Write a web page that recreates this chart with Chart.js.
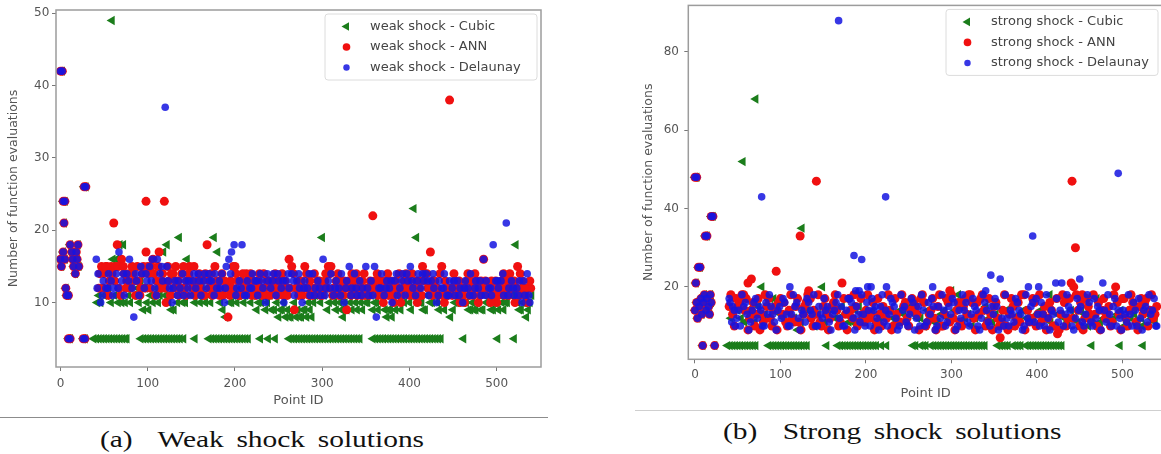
<!DOCTYPE html>
<html>
<head>
<meta charset="utf-8">
<script src="https://cdn.jsdelivr.net/npm/chart.js@4.4.1/dist/chart.umd.min.js"></script>
<style>
  html, body { margin: 0; padding: 0; background: #fff; }
  body { position: relative; width: 1161px; height: 454px; overflow: hidden; }
  #weakChart { position: absolute; left: 0; top: 0; }
  #strongChart { position: absolute; left: 580px; top: 0; }
  .rule { position: absolute; height: 0; }
  .caption {
    position: absolute;
    font-family: "Liberation Serif", "Times New Roman", serif;
    font-size: 23px;
    line-height: 23px;
    color: #111;
    white-space: nowrap;
    word-spacing: 0.18em;
    transform: scaleX(1.28);
    transform-origin: 0 0;
  }
</style>
</head>
<body>
<canvas id="weakChart" width="560" height="415"></canvas>
<canvas id="strongChart" width="590" height="405"></canvas>
<div class="rule" style="left:0; top:417px; width:548px; border-top:1.5px solid #8c8c8c;"></div>
<div class="rule" style="left:635px; top:410px; width:526px; border-top:1px solid #cfcfcf;"></div>
<div class="caption" style="left:100px; top:428px;">(a)&nbsp; Weak shock solutions</div>
<div class="caption" style="left:723px; top:420px;">(b)&nbsp; Strong shock solutions</div>

<script>
// [point id, number of function evaluations]

const weakCubic = [
  [0,42],[2,42],[3,24],[5,24],[4,21],[0,16],[1,15],[3,17],[5,16],[11,18],[13,17],[14,16],[15,15],[17,14],
  [18,17],[19,16],[20,18],[21,15],[6,12],[7,11],[9,11],[9,5],[11,5],[26,5],[28,5],[27,26],[29,26],
  [59,49],[42,10],[46,10],[50,11],[55,12],[60,16],[64,16],[68,18],[72,18],[66,10],[70,10],[74,10],[78,11],
  [82,13],[88,12],[92,13],[95,9],[99,10],[103,11],[106,10],[110,12],[114,11],[118,17],[122,18],[124,10],
  [127,9],[130,9],[134,10],[136,19],[140,10],[145,16],[148,13],[152,11],[156,12],[160,10],[164,11],[168,12],
  [172,10],[176,19],[180,17],[183,10],[186,9],[189,8],[192,11],[196,10],[200,12],[205,11],[210,10],[215,12],
  [220,11],[225,9],[230,10],[235,9],[240,11],[245,9],[250,8],[254,9],[258,8],[262,8],[266,9],[270,8],[274,8],
  [278,9],[282,8],[286,9],[290,10],[295,11],[300,19],[304,12],[308,10],[312,11],[316,9],[320,10],[324,8],
  [328,9],[332,10],[336,11],[340,9],[344,10],[348,12],[352,10],[356,11],[360,10],[364,9],[368,10],[372,9],
  [376,9],[380,8],[384,9],[388,10],[392,11],[396,12],[400,10],[405,23],[408,19],[412,10],[416,9],[420,11],
  [424,10],[428,12],[432,10],[436,11],[440,9],[447,8],[452,10],[456,11],[460,12],[465,10],[470,9],[474,9],
  [478,10],[482,9],[486,11],[490,10],[494,9],[498,10],[502,9],[506,10],[510,10],[515,12],[519,11],[522,18],
  [526,9],[530,10],[534,8],[538,10],
  [44,11],[52,12],[58,10],[62,11],[76,12],[80,10],[85,11],[90,10],[97,12],[101,9],[108,11],[112,10],
  [116,12],[120,11],[132,11],[138,12],[143,10],[150,11],[154,10],[158,11],[162,12],[166,10],[170,11],
  [178,12],[194,10],[198,11],[202,10],[207,12],[212,11],[218,10],[222,12],[227,10],[232,11],[237,10],
  [242,9],[248,10],[252,9],[256,10],[260,9],[264,8],[268,10],[272,9],[276,8],[280,9],[284,10],[288,8],
  [292,11],[298,10],[302,11],[306,9],[310,12],[314,10],[318,11],[322,9],[326,10],[330,11],[334,9],[338,10],
  [342,11],[346,9],[350,10],[354,12],[358,9],[362,10],[366,11],[370,10],[374,8],[378,9],[382,10],[386,11],
  [390,9],[394,10],[398,11],[402,9],[410,11],[414,10],[418,9],[422,12],[426,10],[430,11],[434,9],[438,10],
  [442,11],[450,9],[454,10],[458,11],[462,10],[468,9],[472,10],[476,9],[480,11],[484,9],[488,10],[492,11],
  [496,9],[500,10],[504,11],[508,9],[512,10],[517,11],[524,10],[528,9],[532,10],[536,9],[540,11],
  [38,5],[41,5],[44,5],[47,5],[50,5],[53,5],[56,5],[59,5],[62,5],[65,5],[68,5],[71,5],[74,5],[76,5],
  [92,5],[95,5],[98,5],[101,5],[104,5],[107,5],[110,5],[113,5],[116,5],[119,5],[122,5],[125,5],[128,5],
  [131,5],[134,5],[137,5],[141,5],[154,5],
  [170,5],[173,5],[176,5],[179,5],[182,5],[185,5],[188,5],[191,5],[194,5],[197,5],[200,5],[203,5],[206,5],
  [209,5],[212,5],[215,5],[229,5],[238,5],[246,5],
  [262,5],[265,5],[268,5],[271,5],[274,5],[277,5],[280,5],[283,5],[286,5],[289,5],[292,5],[295,5],[298,5],
  [301,5],[304,5],[307,5],[310,5],[313,5],[316,5],[319,5],[322,5],[325,5],[328,5],[331,5],[334,5],[337,5],
  [340,5],[343,5],
  [358,5],[361,5],[364,5],[367,5],[370,5],[373,5],[376,5],[379,5],[382,5],[385,5],[388,5],[391,5],[394,5],
  [397,5],[400,5],[403,5],[406,5],[409,5],[412,5],[415,5],[418,5],[421,5],[424,5],[427,5],[430,5],[433,5],
  [436,5],[462,5],[501,5],[520,5]
];

const weakAnn = [
  [0,42],[2,42],[3,24],[5,24],[4,21],[0,16],[1,15],[3,17],[5,16],[11,18],[13,17],[14,16],[15,15],[17,14],
  [18,17],[19,16],[20,18],[21,15],[6,12],[7,11],[9,11],[9,5],[11,5],[26,5],[28,5],[27,26],[29,26],
  [44,12],[47,15],[50,14],[53,15],[56,13],[58,15],[61,21],[63,15],[65,18],[67,12],[70,16],[73,14],[76,13],
  [80,12],[83,14],[86,11],[89,13],[92,12],[95,15],[98,24],[98,17],[101,14],[104,15],[107,14],[110,13],
  [113,17],[115,12],[117,14],[119,24],[121,10],[124,13],[127,14],[130,12],[133,13],[136,11],[139,14],
  [142,12],[145,13],[148,15],[151,12],[154,11],[157,13],[160,12],[163,11],[166,14],[168,18],[171,12],
  [174,11],[177,15],[180,12],[183,13],[186,11],[189,12],[192,8],[195,13],[198,15],[201,14],[204,11],
  [207,13],[210,12],[213,14],[216,12],[219,11],[222,13],[225,12],[228,14],[231,11],[234,12],[237,13],
  [240,11],[243,12],[246,14],[249,12],[252,13],[255,11],[258,12],[262,16],[265,15],[268,9],[271,12],
  [274,13],[277,11],[280,15],[283,12],[286,13],[289,11],[292,12],[295,13],[298,11],[301,12],[304,14],
  [307,15],[310,15],[313,12],[316,13],[319,11],[322,12],[325,13],[328,9],[331,12],[334,14],[337,13],
  [340,11],[343,12],[346,13],[349,11],[352,12],[355,13],[358,22],[361,12],[364,11],[367,13],[370,10],
  [373,12],[376,11],[379,13],[382,10],[385,12],[388,14],[391,11],[394,13],[397,12],[400,11],[403,14],
  [406,12],[409,10],[412,13],[415,15],[418,14],[421,12],[424,17],[427,13],[430,12],[433,11],[437,15],
  [440,10],[443,12],[446,38],[449,11],[452,13],[455,12],[458,10],[461,11],[464,12],[467,14],[470,13],
  [473,11],[476,12],[479,10],[482,13],[485,16],[488,12],[491,11],[494,13],[497,12],[500,10],[503,12],
  [506,13],[509,11],[512,12],[515,14],[518,13],[521,10],[524,15],[527,14],[530,12],[533,11],[536,12],[539,12],
  [45,14],[49,12],[52,15],[55,11],[59,14],[62,13],[66,15],[69,11],[72,15],[75,12],[78,14],[82,15],[85,13],
  [88,15],[91,11],[94,14],[97,12],[100,15],[103,12],[106,16],[109,11],[112,15],[116,13],[120,12],[123,15],
  [126,11],[129,14],[132,15],[135,13],[138,12],[141,15],[144,11],[147,14],[150,13],[153,15],[156,12],
  [159,14],[162,13],[165,11],[170,13],[173,14],[176,12],[179,13],[182,11],[185,14],[188,13],[191,12],
  [194,11],[197,12],[200,15],[203,13],[206,11],[209,14],[212,12],[215,13],[218,14],[221,12],[224,11],
  [227,13],[230,12],[233,14],[236,11],[239,13],[242,12],[245,13],[248,11],[251,12],[254,14],[257,13],
  [260,11],[263,12],[267,14],[270,12],[273,11],[276,13],[279,12],[282,14],[285,11],[288,12],[291,14],
  [294,12],[297,13],[300,11],[303,13],[306,12],[309,14],[312,11],[315,12],[318,14],[321,13],[324,11],
  [327,12],[330,13],[333,11],[336,12],[339,14],[342,13],[345,11],[348,14],[351,12],[354,11],[357,12],
  [360,13],[363,14],[366,12],[369,11],[372,13],[375,14],[378,12],[381,11],[384,13],[387,12],[390,10],
  [393,12],[396,14],[399,13],[402,12],[405,11],[408,13],[411,12],[414,11],[417,13],[420,14],[423,12],
  [426,11],[429,13],[432,12],[435,14],[438,11],[441,13],[444,11],[448,12],[451,14],[454,11],[457,13],
  [460,12],[463,10],[466,13],[469,11],[472,12],[475,14],[478,13],[481,11],[484,12],[487,13],[490,12],
  [493,10],[496,11],[499,13],[502,11],[505,12],[508,14],[511,13],[514,11],[517,12],[520,13],[523,12],
  [526,11],[529,13],[532,12],[535,10],[538,13]
];

const weakDelaunay = [
  [0,42],[2,42],[3,24],[5,24],[4,21],[0,16],[1,15],[3,17],[5,16],[11,18],[13,17],[14,16],[15,15],[17,14],
  [18,17],[19,16],[20,18],[21,15],[6,12],[7,11],[9,11],[9,5],[11,5],[26,5],[28,5],[27,26],[29,26],
  [41,16],[43,14],[46,10],[49,13],[52,12],[55,14],[58,13],[61,12],[64,14],[67,17],[70,13],[73,11],[76,14],
  [79,16],[82,12],[84,8],[87,13],[90,11],[93,14],[96,12],[99,13],[102,15],[105,16],[108,12],[111,16],
  [114,14],[117,13],[120,37],[122,15],[125,12],[128,10],[131,13],[134,11],[137,12],[140,14],[143,13],
  [146,12],[149,11],[152,13],[155,12],[158,14],[161,11],[164,13],[167,12],[170,14],[173,13],[176,11],
  [179,12],[182,13],[185,14],[188,10],[190,15],[193,16],[196,17],[199,18],[202,12],[205,13],[208,18],
  [211,11],[214,13],[217,12],[220,14],[223,13],[226,11],[229,14],[232,12],[235,10],[238,13],[241,12],
  [244,14],[247,11],[250,13],[253,12],[256,10],[259,13],[262,12],[265,14],[268,11],[271,13],[274,12],
  [277,10],[280,13],[283,12],[286,11],[289,14],[292,12],[295,13],[298,11],[301,16],[304,12],[307,13],
  [310,14],[313,11],[316,13],[319,12],[322,14],[325,10],[328,13],[331,15],[334,12],[337,14],[340,11],
  [343,13],[346,12],[350,15],[353,11],[356,13],[360,15],[362,8],[365,12],[368,14],[371,11],[374,13],
  [377,12],[380,10],[383,13],[386,11],[389,12],[392,14],[395,11],[398,13],[401,15],[404,12],[407,11],
  [410,14],[413,12],[416,13],[419,14],[422,11],[425,13],[428,12],[431,10],[434,13],[437,12],[440,14],
  [443,11],[446,13],[449,12],[452,11],[455,13],[458,12],[461,10],[464,13],[467,12],[470,14],[473,11],
  [476,13],[479,12],[482,11],[485,16],[488,13],[491,12],[494,11],[496,18],[499,13],[502,12],[505,13],
  [508,11],[511,21],[514,12],[517,13],[520,11],[523,12],[526,13],[529,10],[532,11],[535,14],[538,10],
  [42,12],[48,11],[54,12],[60,11],[66,12],[72,14],[78,13],[86,14],[92,15],[98,14],[104,13],[110,11],
  [116,15],[123,13],[129,12],[135,13],[141,11],[147,13],[153,14],[159,13],[165,14],[171,13],[177,14],
  [183,12],[189,12],[195,14],[201,11],[207,12],[213,11],[219,12],[225,13],[231,13],[237,14],[243,13],
  [249,14],[255,13],[261,14],[267,13],[273,14],[279,12],[285,14],[291,11],[297,12],[303,11],[309,12],
  [315,12],[321,11],[327,12],[333,11],[339,12],[345,11],[352,12],[358,11],[367,12],[373,12],[379,13],
  [385,14],[391,13],[397,14],[403,13],[409,13],[415,14],[421,13],[427,14],[433,11],[439,12],[445,11],
  [451,13],[457,11],[463,12],[469,11],[475,12],[481,13],[487,11],[493,12],[501,13],[507,14],[513,11],
  [519,12],[525,11],[531,13],[537,11]
];

const strongCubic = [
  [0,48],[2,48],[1,21],[4,25],[6,25],[12,33],[14,33],[19,38],[21,38],[0,14],[2,16],[3,12],[5,15],[7,17],
  [8,13],[10,16],[11,18],[13,14],[14,17],[16,15],[17,13],[18,18],[19,16],[9,5],[23,5],
  [56,52],[71,68],[125,35],[78,20],[149,20],[300,19],[308,18],[415,18],[470,17],[120,9],[523,10],[88,17],[92,17],
  [42,12],[50,14],[58,11],[66,13],[74,15],[84,12],[100,13],[108,11],[116,12],[132,14],[140,10],[156,13],
  [164,12],[172,15],[180,11],[188,14],[196,12],[204,13],[212,10],[220,12],[228,14],[236,11],[244,13],
  [252,15],[260,12],[268,10],[276,13],[284,11],[292,14],[316,12],[324,10],[332,13],[340,15],[348,11],
  [356,12],[364,14],[372,10],[380,13],[388,12],[396,11],[404,14],[412,12],[420,10],[428,13],[436,11],
  [444,12],[452,14],[460,10],[478,12],[486,11],[494,13],[502,10],[510,12],[518,11],[530,13],[538,11],
  [46,13],[54,12],[62,14],[70,11],[82,13],[96,14],[104,12],[112,13],[124,11],[128,14],[136,12],[144,13],
  [152,11],[160,14],[168,12],[176,13],[184,11],[192,15],[200,12],[208,14],[216,11],[224,13],[232,12],
  [240,14],[248,11],[256,13],[264,12],[272,14],[280,11],[288,13],[296,12],[304,14],[312,11],[320,13],
  [328,12],[336,14],[344,12],[352,13],[360,11],[368,13],[376,12],[384,14],[392,11],[400,13],[408,12],
  [416,11],[424,13],[432,12],[440,14],[448,11],[456,13],[464,12],[474,11],[482,13],[490,12],[498,14],
  [506,11],[514,13],[522,12],[534,12],
  [38,5],[41,5],[44,5],[47,5],[50,5],[53,5],[56,5],[59,5],[62,5],[65,5],[68,5],[71,5],
  [86,5],[89,5],[92,5],[95,5],[98,5],[101,5],[104,5],[107,5],[110,5],[113,5],[116,5],[119,5],[122,5],
  [125,5],[128,5],[131,5],[154,5],
  [167,5],[170,5],[173,5],[176,5],[179,5],[182,5],[185,5],[188,5],[191,5],[194,5],[197,5],[200,5],[203,5],
  [206,5],[209,5],[212,5],[218,5],[224,5],
  [255,5],[258,5],[264,5],[267,5],[270,5],[276,5],[279,5],[282,5],[285,5],[288,5],[291,5],[294,5],[297,5],
  [300,5],[303,5],[306,5],[309,5],[312,5],[315,5],[318,5],[321,5],[324,5],[327,5],[330,5],[333,5],[336,5],
  [339,5],
  [354,5],[357,5],[360,5],[363,5],[366,5],[372,5],[375,5],[378,5],[381,5],[387,5],[390,5],[393,5],[396,5],
  [399,5],[402,5],[405,5],[408,5],[411,5],[414,5],[417,5],[420,5],[423,5],[426,5],[429,5],
  [464,5],[497,5],[524,5]
];

const strongAnn = [
  [0,48],[2,48],[1,21],[4,25],[6,25],[12,33],[14,33],[19,38],[21,38],[0,14],[2,16],[3,12],[5,15],[7,17],
  [8,13],[10,16],[11,18],[13,14],[14,17],[16,15],[17,13],[18,18],[19,16],[9,5],[23,5],
  [142,47],[441,47],[445,30],[123,33],[95,24],[66,22],[62,21],[172,21],[357,7],[424,8],[76,9],[133,19],
  [298,19],[322,18],[385,18],[440,21],[443,20],[453,18],[492,20],
  [40,15],[44,13],[48,17],[52,16],[55,18],[58,14],[60,17],[64,12],[68,16],[72,13],[80,11],[84,15],[88,12],
  [92,14],[98,16],[102,13],[106,11],[110,14],[114,12],[118,15],[121,11],[127,13],[130,16],[136,12],[139,14],
  [146,11],[150,15],[154,13],[158,12],[162,16],[166,14],[170,11],[176,13],[180,17],[184,12],[188,15],
  [192,11],[196,13],[200,14],[204,12],[208,16],[212,11],[216,13],[220,15],[224,12],[228,14],[232,10],
  [236,13],[240,11],[244,15],[248,12],[252,14],[256,16],[260,13],[264,17],[268,16],[272,11],[276,14],
  [280,12],[284,15],[288,10],[292,13],[296,16],[302,12],[306,14],[310,11],[314,15],[318,13],[326,12],
  [330,16],[334,17],[338,14],[342,11],[346,13],[350,15],[354,12],[360,14],[364,10],[368,13],[372,15],
  [376,12],[380,11],[389,14],[393,12],[397,16],[401,13],[405,11],[409,15],[413,12],[417,14],[421,10],
  [428,13],[432,16],[436,12],[448,14],[451,16],[456,12],[460,15],[464,11],[468,13],[472,16],[476,14],
  [480,12],[484,15],[488,11],[496,13],[500,17],[504,12],[508,14],[512,16],[516,11],[520,15],[524,13],
  [528,17],[532,14],[536,12],[540,15],
  [42,18],[46,10],[50,15],[54,17],[57,18],[62,9],[66,14],[70,10],[74,17],[78,13],[82,18],[86,17],[90,10],
  [94,15],[96,9],[100,17],[104,16],[108,10],[112,18],[116,11],[120,17],[124,9],[128,15],[132,18],[135,17],
  [138,10],[142,13],[144,18],[148,10],[152,17],[156,9],[160,15],[164,18],[168,10],[174,17],[178,9],
  [182,14],[186,18],[190,10],[194,17],[198,11],[202,18],[206,13],[210,9],[214,17],[218,10],[222,14],
  [226,18],[230,9],[234,17],[238,11],[242,18],[246,16],[250,10],[254,17],[258,15],[262,9],[266,18],
  [270,10],[274,13],[278,17],[282,9],[286,18],[290,10],[294,17],[298,11],[300,18],[304,9],[308,16],
  [312,10],[316,17],[320,18],[324,16],[328,9],[332,13],[336,18],[340,10],[344,17],[348,9],[352,16],
  [356,10],[358,11],[362,18],[366,9],[370,17],[374,10],[378,16],[382,18],[386,9],[391,11],[395,17],
  [399,10],[403,18],[407,13],[411,9],[415,16],[419,10],[423,17],[426,9],[430,18],[434,10],[438,17],
  [442,12],[446,18],[450,10],[454,9],[458,17],[462,13],[466,18],[470,10],[474,9],[478,17],[482,13],
  [486,10],[490,18],[494,16],[498,9],[502,17],[506,10],[510,18],[514,15],[518,9],[522,17],[526,16],
  [530,10],[534,18],[538,13]
];

const strongDelaunay = [
  [0,48],[2,48],[1,21],[4,25],[6,25],[12,33],[14,33],[19,38],[21,38],[0,14],[2,16],[3,12],[5,15],[7,17],
  [8,13],[10,16],[11,18],[13,14],[14,17],[16,15],[17,13],[18,18],[19,16],[9,5],[23,5],
  [168,88],[78,43],[223,43],[495,49],[395,33],[186,28],[195,27],[346,23],[357,22],[450,22],[477,21],
  [111,20],[188,19],[192,19],[202,20],[206,20],[224,20],[278,20],[340,19],[390,20],[402,20],[422,21],[429,21],
  [41,16],[43,11],[46,14],[49,12],[53,10],[57,15],[61,13],[65,11],[69,16],[73,12],[77,14],[81,10],[85,13],
  [89,15],[93,11],[97,14],[101,12],[105,16],[109,10],[113,13],[117,15],[121,12],[125,14],[129,11],[133,16],
  [137,13],[141,10],[145,15],[149,12],[153,14],[157,11],[161,13],[165,16],[169,12],[173,10],[177,14],
  [181,17],[185,12],[189,15],[193,11],[197,13],[201,16],[205,10],[209,14],[213,12],[217,15],[221,11],
  [227,13],[231,16],[235,12],[239,10],[243,14],[247,11],[251,13],[255,16],[259,12],[263,10],[267,14],
  [271,11],[275,13],[279,15],[283,10],[287,12],[291,14],[295,11],[299,13],[303,16],[307,10],[311,12],
  [315,14],[319,11],[323,13],[327,15],[331,10],[335,12],[339,16],[343,11],[349,13],[353,15],[361,10],
  [365,12],[369,14],[373,11],[377,16],[381,13],[385,10],[389,12],[393,15],[397,11],[401,13],[405,16],
  [409,10],[413,12],[417,14],[425,11],[433,13],[437,15],[441,10],[445,12],[449,14],[453,11],[457,13],
  [461,16],[465,10],[469,12],[473,14],[481,11],[485,13],[489,15],[493,10],[497,12],[501,14],[505,11],
  [509,13],[513,16],[517,10],[521,12],[525,14],[529,11],[533,13],[537,17],[540,10],
  [40,17],[44,15],[47,10],[51,14],[55,18],[59,16],[63,9],[67,14],[71,17],[75,15],[79,10],[83,16],[87,18],
  [91,13],[95,9],[99,15],[103,17],[107,13],[111,10],[115,18],[119,16],[123,9],[127,13],[131,17],[135,14],
  [139,18],[143,10],[147,13],[151,17],[155,15],[159,9],[163,14],[167,18],[171,15],[175,10],[179,17],
  [183,16],[187,9],[191,13],[195,18],[199,10],[203,14],[207,17],[211,15],[215,9],[219,18],[223,14],
  [225,10],[229,17],[233,15],[237,9],[241,18],[245,15],[249,10],[253,17],[257,9],[261,15],[265,18],
  [269,10],[273,16],[277,17],[281,9],[285,15],[289,18],[293,10],[297,15],[301,17],[305,9],[309,14],
  [313,18],[317,16],[321,10],[325,17],[329,14],[333,9],[337,18],[341,14],[345,10],[347,15],[351,17],
  [355,9],[359,12],[363,18],[367,10],[371,13],[375,17],[379,14],[383,9],[387,18],[391,11],[395,16],
  [399,17],[403,10],[407,13],[411,18],[415,9],[419,13],[423,17],[427,14],[431,10],[435,18],[439,14],
  [443,9],[447,17],[451,15],[455,10],[459,18],[463,11],[467,17],[471,15],[475,9],[479,14],[483,18],
  [487,10],[491,17],[495,14],[499,9],[503,13],[507,18],[511,10],[515,14],[519,17],[523,9],[527,15],
  [531,18],[535,14],[539,10]
];

const xTicks = [0, 100, 200, 300, 400, 500];
const weakYTicks = [10, 20, 30, 40, 50];
const strongYTicks = [20, 40, 60, 80];

const GREEN = '#1b7d1b';
const RED = '#f01010';
const BLUE = 'rgba(20, 20, 225, 0.85)';
const TEXT = '#555';
const FONT = 'DejaVu Sans';

function toPoints(pairs) {
  return pairs.map(p => ({ x: p[0], y: p[1] }));
}

function makeDatasets(prefix, cubic, ann, delaunay) {
  return [
    { label: prefix + ' - Cubic', data: toPoints(cubic), pointStyle: 'triangle', rotation: -90,
      pointRadius: 5.4, backgroundColor: GREEN, borderWidth: 0, order: 3 },
    { label: prefix + ' - ANN', data: toPoints(ann), pointStyle: 'circle',
      pointRadius: 4.5, backgroundColor: RED, borderWidth: 0, order: 2 },
    { label: prefix + ' - Delaunay', data: toPoints(delaunay), pointStyle: 'circle',
      pointRadius: 3.8, backgroundColor: BLUE, borderWidth: 0, order: 1 },
  ];
}

function drawMarker(ctx, ds, x, y) {
  ctx.fillStyle = ds.backgroundColor;
  ctx.beginPath();
  if (ds.pointStyle === 'triangle') {
    const r = 5;
    ctx.moveTo(x - r, y);
    ctx.lineTo(x + r / 2, y - r * 0.866);
    ctx.lineTo(x + r / 2, y + r * 0.866);
    ctx.closePath();
  } else {
    ctx.arc(x, y, ds.pointRadius * 0.85, 0, Math.PI * 2);
  }
  ctx.fill();
}

// axes frame + matplotlib style legend in the upper right
const frameLegend = {
  id: 'frameLegend',
  afterDatasetsDraw(chart, args, opts) {
    const ctx = chart.ctx;
    const a = chart.chartArea;
    ctx.save();
    ctx.strokeStyle = '#9c9c9c';
    ctx.lineWidth = 1.5;
    ctx.strokeRect(a.left, a.top, a.right - a.left, a.bottom - a.top);

    const x0 = a.right - opts.insetX - opts.width;
    const y0 = a.top + opts.insetY;
    ctx.beginPath();
    ctx.roundRect(x0, y0, opts.width, opts.height, 3);
    ctx.fillStyle = 'rgba(255,255,255,0.85)';
    ctx.fill();
    ctx.strokeStyle = '#dcdcdc';
    ctx.lineWidth = 1;
    ctx.stroke();

    ctx.font = '13px "' + FONT + '"';
    ctx.textBaseline = 'middle';
    chart.data.datasets.forEach((ds, i) => {
      const cy = y0 + 12.5 + i * 20.5;
      drawMarker(ctx, ds, x0 + 21.5, cy);
      ctx.fillStyle = '#444';
      ctx.fillText(ds.label, x0 + 45, cy);
    });
    ctx.restore();
  }
};

function makeChart(id, datasets, cfg) {
  return new Chart(document.getElementById(id), {
    type: 'scatter',
    data: { datasets: datasets },
    options: {
      responsive: false,
      animation: false,
      events: [],
      layout: { padding: cfg.padding },
      plugins: {
        legend: { display: false },
        tooltip: { enabled: false },
        frameLegend: cfg.legend,
      },
      scales: {
        x: {
          type: 'linear',
          min: cfg.xMin,
          max: cfg.xMax,
          afterBuildTicks: ax => { ax.ticks = xTicks.map(v => ({ value: v })); },
          afterFit: ax => { ax.height = cfg.xHeight; ax.paddingLeft = 0; ax.paddingRight = 0; },
          border: { display: false },
          grid: { drawOnChartArea: false, drawTicks: true, tickLength: 4, color: '#777', tickColor: '#777' },
          ticks: { color: TEXT, font: { family: FONT, size: 12 }, padding: cfg.xTickPad, maxRotation: 0, autoSkip: false },
          title: { display: true, text: 'Point ID', color: TEXT, font: { family: FONT, size: 13 },
                   padding: { top: 0, bottom: cfg.xTitlePad } }
        },
        y: {
          type: 'linear',
          min: cfg.yMin,
          max: cfg.yMax,
          afterBuildTicks: ax => { ax.ticks = cfg.yTicks.map(v => ({ value: v })); },
          afterFit: ax => { ax.width = cfg.yWidth; ax.paddingTop = 0; ax.paddingBottom = 0; },
          border: { display: false },
          grid: { drawOnChartArea: false, drawTicks: true, tickLength: 4, color: '#777', tickColor: '#777' },
          ticks: { color: TEXT, font: { family: FONT, size: 12 }, padding: cfg.yTickPad, autoSkip: false },
          title: { display: true, text: 'Number of function evaluations', color: TEXT,
                   font: { family: FONT, size: 12.5 }, padding: { top: cfg.yTitlePad, bottom: 0 } }
        }
      }
    },
    plugins: [frameLegend]
  });
}

makeChart('weakChart', makeDatasets('weak shock', weakCubic, weakAnn, weakDelaunay), {
  padding: { left: 0, right: 19, top: 10, bottom: 0 },
  xMin: -5.2, xMax: 550.8, yMin: 1.1, yMax: 50.45,
  yTicks: weakYTicks,
  xHeight: 48, yWidth: 56,
  xTickPad: 5.5, yTickPad: 2.7, xTitlePad: 6.2, yTitlePad: 6.5,
  legend: { width: 212, height: 66, insetX: 4, insetY: 4 }
});

makeChart('strongChart', makeDatasets('strong shock', strongCubic, strongAnn, strongDelaunay), {
  padding: { left: 55, right: 7, top: 5, bottom: 0 },
  xMin: -7.8, xMax: 547.4, yMin: 1.5, yMax: 91.9,
  yTicks: strongYTicks,
  xHeight: 45.7, yWidth: 53.3,
  xTickPad: 4.2, yTickPad: 5.3, xTitlePad: 3.9, yTitlePad: 6,
  legend: { width: 212, height: 66, insetX: 5, insetY: 4 }
});
</script>
</body>
</html>
